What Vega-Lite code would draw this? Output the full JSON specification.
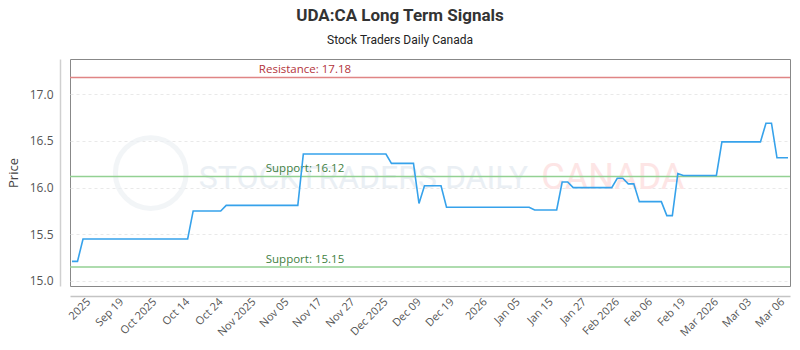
{
  "$schema": "https://vega.github.io/schema/vega-lite/v6.json",
  "autosize": "none",
  "width": 720,
  "height": 227,
  "padding": {"left": 70, "top": 59, "right": 10, "bottom": 64},
  "background": "white",
  "config": {
    "view": {"stroke": "#888", "strokeWidth": 1},
    "font": "Open Sans"
  },
  "title": {
    "text": "UDA:CA Long Term Signals",
    "subtitle": "Stock Traders Daily Canada",
    "anchor": "middle",
    "frame": "group",
    "dx": -30,
    "offset": 12,
    "font": "Roboto",
    "fontSize": 17,
    "fontWeight": "bold",
    "color": "#333",
    "subtitleFont": "Roboto",
    "subtitleFontSize": 12,
    "subtitleColor": "#222",
    "subtitlePadding": 10
  },
  "datasets": {
    "prices": [
      {"n":0,"p":15.21},{"n":1,"p":15.21},{"n":2,"p":15.45},{"n":3,"p":15.45},{"n":4,"p":15.45},{"n":5,"p":15.45},{"n":6,"p":15.45},{"n":7,"p":15.45},{"n":8,"p":15.45},{"n":9,"p":15.45},
      {"n":10,"p":15.45},{"n":11,"p":15.45},{"n":12,"p":15.45},{"n":13,"p":15.45},{"n":14,"p":15.45},{"n":15,"p":15.45},{"n":16,"p":15.45},{"n":17,"p":15.45},{"n":18,"p":15.45},{"n":19,"p":15.45},
      {"n":20,"p":15.45},{"n":21,"p":15.45},{"n":22,"p":15.75},{"n":23,"p":15.75},{"n":24,"p":15.75},{"n":25,"p":15.75},{"n":26,"p":15.75},{"n":27,"p":15.75},{"n":28,"p":15.81},{"n":29,"p":15.81},
      {"n":30,"p":15.81},{"n":31,"p":15.81},{"n":32,"p":15.81},{"n":33,"p":15.81},{"n":34,"p":15.81},{"n":35,"p":15.81},{"n":36,"p":15.81},{"n":37,"p":15.81},{"n":38,"p":15.81},{"n":39,"p":15.81},
      {"n":40,"p":15.81},{"n":41,"p":15.81},{"n":42,"p":16.36},{"n":43,"p":16.36},{"n":44,"p":16.36},{"n":45,"p":16.36},{"n":46,"p":16.36},{"n":47,"p":16.36},{"n":48,"p":16.36},{"n":49,"p":16.36},
      {"n":50,"p":16.36},{"n":51,"p":16.36},{"n":52,"p":16.36},{"n":53,"p":16.36},{"n":54,"p":16.36},{"n":55,"p":16.36},{"n":56,"p":16.36},{"n":57,"p":16.36},{"n":58,"p":16.26},{"n":59,"p":16.26},
      {"n":60,"p":16.26},{"n":61,"p":16.26},{"n":62,"p":16.26},{"n":63,"p":15.83},{"n":64,"p":16.02},{"n":65,"p":16.02},{"n":66,"p":16.02},{"n":67,"p":16.02},{"n":68,"p":15.79},{"n":69,"p":15.79},
      {"n":70,"p":15.79},{"n":71,"p":15.79},{"n":72,"p":15.79},{"n":73,"p":15.79},{"n":74,"p":15.79},{"n":75,"p":15.79},{"n":76,"p":15.79},{"n":77,"p":15.79},{"n":78,"p":15.79},{"n":79,"p":15.79},
      {"n":80,"p":15.79},{"n":81,"p":15.79},{"n":82,"p":15.79},{"n":83,"p":15.79},{"n":84,"p":15.76},{"n":85,"p":15.76},{"n":86,"p":15.76},{"n":87,"p":15.76},{"n":88,"p":15.76},{"n":89,"p":16.06},
      {"n":90,"p":16.06},{"n":91,"p":16.0},{"n":92,"p":16.0},{"n":93,"p":16.0},{"n":94,"p":16.0},{"n":95,"p":16.0},{"n":96,"p":16.0},{"n":97,"p":16.0},{"n":98,"p":16.0},{"n":99,"p":16.1},
      {"n":100,"p":16.1},{"n":101,"p":16.04},{"n":102,"p":16.04},{"n":103,"p":15.85},{"n":104,"p":15.85},{"n":105,"p":15.85},{"n":106,"p":15.85},{"n":107,"p":15.85},{"n":108,"p":15.7},{"n":109,"p":15.7},
      {"n":110,"p":16.15},{"n":111,"p":16.13},{"n":112,"p":16.13},{"n":113,"p":16.13},{"n":114,"p":16.13},{"n":115,"p":16.13},{"n":116,"p":16.13},{"n":117,"p":16.13},{"n":118,"p":16.49},{"n":119,"p":16.49},
      {"n":120,"p":16.49},{"n":121,"p":16.49},{"n":122,"p":16.49},{"n":123,"p":16.49},{"n":124,"p":16.49},{"n":125,"p":16.49},{"n":126,"p":16.69},{"n":127,"p":16.69},{"n":128,"p":16.32},{"n":129,"p":16.32},
      {"n":130,"p":16.32}
    ],
    "levels": [
      {"kind": "Resistance", "price": 17.18},
      {"kind": "Support", "price": 16.12},
      {"kind": "Support", "price": 15.15}
    ]
  },
  "layer": [
    {
      "data": {"values": [{}]},
      "mark": {"type": "point", "filled": false, "stroke": "#edf1f5", "strokeWidth": 5, "size": 5000},
      "encoding": {"x": {"datum": 14.3, "type": "quantitative"}, "y": {"datum": 16.156, "type": "quantitative"}}
    },
    {
      "data": {"values": [{}]},
      "mark": {"type": "text", "text": "STOCKTRADERS DAILY", "font": "Roboto", "fontSize": 32, "color": "#eaeff4", "align": "center", "baseline": "middle"},
      "encoding": {"x": {"datum": 52.9, "type": "quantitative"}, "y": {"datum": 16.1, "type": "quantitative"}}
    },
    {
      "data": {"values": [{}]},
      "mark": {"type": "text", "text": "CANADA", "font": "Roboto", "fontSize": 36, "color": "#fde5e5", "align": "center", "baseline": "middle"},
      "encoding": {"x": {"datum": 98.2, "type": "quantitative"}, "y": {"datum": 16.1, "type": "quantitative"}}
    },
    {
      "data": {"name": "levels"},
      "mark": {"type": "rule", "strokeWidth": 1.5},
      "encoding": {
        "y": {"field": "price", "type": "quantitative"},
        "color": {"condition": {"test": "datum.kind === 'Resistance'", "value": "#e08585"}, "value": "#93d193"}
      }
    },
    {
      "data": {"name": "levels"},
      "transform": [{"calculate": "datum.kind + ': ' + format(datum.price, '.2f')", "as": "label"}],
      "mark": {"type": "text", "align": "center", "baseline": "bottom", "dy": -2, "font": "Open Sans", "fontSize": 11.5},
      "encoding": {
        "x": {"datum": 42.3, "type": "quantitative"},
        "y": {"field": "price", "type": "quantitative"},
        "text": {"field": "label"},
        "color": {"condition": {"test": "datum.kind === 'Resistance'", "value": "#b3333b"}, "value": "#3f7f3f"}
      }
    },
    {
      "data": {"name": "prices"},
      "mark": {"type": "line", "color": "#36a2eb", "strokeWidth": 1.6, "clip": true},
      "encoding": {
        "x": {
          "field": "n",
          "type": "quantitative",
          "scale": {"domain": [-0.363, 130.363], "nice": false, "zero": false},
          "axis": {
            "title": null,
            "values": [3,9,15,21,27,33,39,45,51,57,63,69,75,81,87,93,99,105,111,117,123,129],
            "tickCount": 40,
            "labelExpr": "['2025','Sep 19','Oct 2025','Oct 14','Oct 24','Nov 2025','Nov 05','Nov 17','Nov 27','Dec 2025','Dec 09','Dec 19','2026','Jan 05','Jan 15','Jan 27','Feb 2026','Feb 06','Feb 19','Mar 2026','Mar 03','Mar 06'][(datum.value-3)/6]",
            "labelAngle": -45,
            "labelAlign": "right",
            "labelBaseline": "middle",
            "labelFont": "Open Sans",
            "labelFontSize": 11,
            "labelColor": "#555",
            "labelPadding": 4,
            "labelOverlap": false,
            "labelFlush": false,
            "ticks": false,
            "grid": false,
            "offset": 10,
            "domainColor": "#c4c4c4",
            "domainWidth": 1.5
          }
        },
        "y": {
          "field": "p",
          "type": "quantitative",
          "scale": {"domain": [14.946, 17.378], "nice": false, "zero": false},
          "axis": {
            "title": "Price",
            "titleFont": "Open Sans",
            "titleFontSize": 13,
            "titleFontWeight": "normal",
            "titleColor": "#444",
            "titlePadding": 9,
            "values": [15, 15.5, 16, 16.5, 17],
            "tickCount": 10,
            "format": ".1f",
            "labelFont": "Open Sans",
            "labelFontSize": 12,
            "labelColor": "#555",
            "labelPadding": 7,
            "ticks": false,
            "offset": 10,
            "domainColor": "#d0d0d0",
            "domainWidth": 1.5,
            "grid": true,
            "gridColor": "#e9e9e9",
            "gridDash": [3, 3]
          }
        }
      }
    }
  ]
}
